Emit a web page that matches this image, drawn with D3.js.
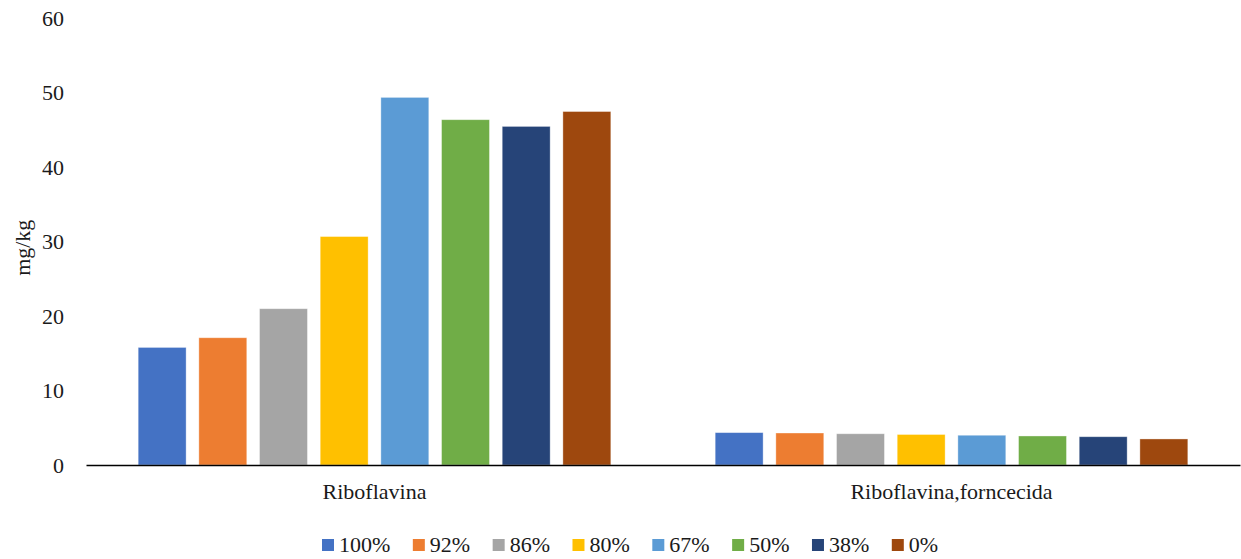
<!DOCTYPE html>
<html>
<head>
<meta charset="utf-8">
<script src="https://cdn.jsdelivr.net/npm/d3@7/dist/d3.min.js"></script>
<style>
  html, body { margin: 0; padding: 0; background: #fff; }
  svg { display: block; }
  text { font-family: "Liberation Serif", "DejaVu Serif", serif; fill: #1a1a1a; }
</style>
</head>
<body>
<svg id="chart" width="1241" height="559"></svg>
<script>
// Riboflavin content (mg/kg) by substitution level
const categories = ["Riboflavina", "Riboflavina,forncecida"];
const seriesNames = ["100%", "92%", "86%", "80%", "67%", "50%", "38%", "0%"];
const riboflavina = [15.8, 17.1, 21.0, 30.7, 49.4, 46.4, 45.5, 47.5];
const riboflavinaFornecida = [4.35, 4.3, 4.2, 4.1, 4.0, 3.9, 3.8, 3.5];
const yTicks = [0, 10, 20, 30, 40, 50, 60];
const colors = ["#4472C4", "#ED7D31", "#A5A5A5", "#FFC000", "#5B9BD5", "#70AD47", "#264478", "#9E480E"];

const serif = "'Liberation Serif', 'DejaVu Serif', serif";
const seriesValues = [riboflavina, riboflavinaFornecida];
const data = categories.map((c, i) => ({
  category: c,
  values: seriesNames.map((s, j) => ({ series: s, value: seriesValues[i][j], color: colors[j] }))
}));

const svg = d3.select("#chart");
const margin = { left: 86, right: 1, top: 18.5, bottom: 94 };
const width = 1241, height = 559;
const plotBottom = height - margin.bottom; // 465

const x0 = d3.scaleBand()
  .domain(categories)
  .range([margin.left, width - margin.right])
  .paddingInner(0).paddingOuter(0);

const x1 = d3.scaleBand()
  .domain(seriesNames)
  .range([0, x0.bandwidth()])
  .paddingInner(0.21)
  .paddingOuter(0.86);

const y = d3.scaleLinear()
  .domain([0, 60])
  .range([plotBottom, margin.top]);

// Bars
const groups = svg.append("g").selectAll("g")
  .data(data)
  .join("g")
  .attr("transform", d => `translate(${x0(d.category)},0)`);

groups.selectAll("rect")
  .data(d => d.values)
  .join("rect")
  .attr("x", d => x1(d.series))
  .attr("y", d => y(d.value))
  .attr("width", x1.bandwidth())
  .attr("height", d => y(0) - y(d.value))
  .attr("fill", d => d.color)
  .attr("stroke", "#ffffff")
  .attr("stroke-opacity", 0.45)
  .attr("stroke-width", 0.8);

// Y axis labels (no axis line, no ticks)
const yAxis = d3.axisLeft(y).tickValues(yTicks).tickSize(0).tickPadding(0);
const yg = svg.append("g")
  .attr("transform", `translate(${margin.left - 22},0)`)
  .call(yAxis);
yg.attr("font-family", null).attr("font-size", null);
yg.select(".domain").remove();
yg.selectAll("text")
  .style("font-family", serif)
  .style("font-size", "22px")
  .attr("fill", "#1a1a1a");

// X axis
const xAxis = d3.axisBottom(x0).tickSize(0).tickPadding(0);
const xg = svg.append("g")
  .attr("transform", `translate(0,${plotBottom})`)
  .call(xAxis);
xg.attr("font-family", null).attr("font-size", null);
xg.select(".domain")
  .attr("stroke", "#000")
  .attr("stroke-width", 1.6);
xg.selectAll("text")
  .attr("y", 34)
  .attr("dy", 0)
  .style("font-family", serif)
  .style("font-size", "22px")
  .attr("fill", "#1a1a1a");

// Y axis title
svg.append("text")
  .attr("transform", `translate(30,${(y(0) + y(60)) / 2 + 6}) rotate(-90)`)
  .attr("text-anchor", "middle")
  .style("font-family", serif)
  .style("font-size", "22px")
  .text("mg/kg");

// Legend
const legend = svg.append("g").attr("transform", "translate(322,0)");
let lx = 0;
seriesNames.forEach((s, j) => {
  const item = legend.append("g").attr("transform", `translate(${lx},0)`);
  item.append("rect")
    .attr("x", 0).attr("y", 539)
    .attr("width", 12).attr("height", 12)
    .attr("fill", colors[j]);
  const t = item.append("text")
    .attr("x", 17).attr("y", 552)
    .style("font-family", serif)
    .style("font-size", "22px")
    .text(s);
  lx += 17 + t.node().getComputedTextLength() + 22.5;
});
</script>
</body>
</html>
